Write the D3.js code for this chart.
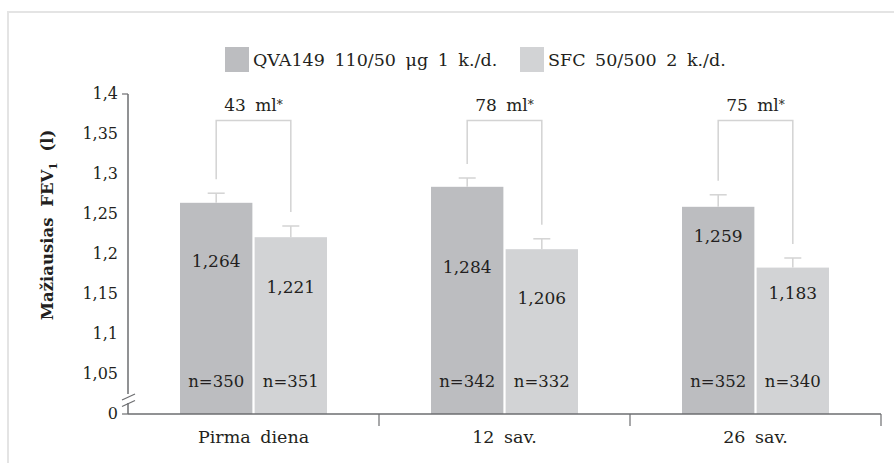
<!DOCTYPE html>
<html>
<head>
<meta charset="utf-8">
<script src="https://cdn.jsdelivr.net/npm/d3@7"></script>
<style>
  html, body { margin: 0; padding: 0; background: #fff; }
  svg { display: block; }
  text { font-family: "DejaVu Serif", "Liberation Serif", serif; fill: #231f20; }
</style>
</head>
<body>
<svg id="chart" width="894" height="463"></svg>
<script>
// ---- data ----
const categories = ["Pirma diena", "12 sav.", "26 sav."];
const seriesNames = ["QVA149 110/50 μg 1 k./d.", "SFC 50/500 2 k./d."];
const qvaValues = [1.264, 1.284, 1.259];
const sfcValues = [1.221, 1.206, 1.183];
const qvaErrors = [0.012, 0.011, 0.015];
const sfcErrors = [0.014, 0.013, 0.012];
const qvaN = [350, 342, 352];
const sfcN = [351, 332, 340];
const differences = ["43 ml", "78 ml", "75 ml"];
const yTicks = [0, 1.05, 1.1, 1.15, 1.2, 1.25, 1.3, 1.35, 1.4];
const yTickLabels = ["0", "1,05", "1,1", "1,15", "1,2", "1,25", "1,3", "1,35", "1,4"];

// annotation placement (value-axis units where the value labels sit, as in the picture)
const qvaLabelAt = [1.191, 1.184, 1.2225];
const sfcLabelAt = [1.159, 1.145, 1.151];

// ---- layout ----
const svg = d3.select("#chart");
const plotLeft = 128, plotRight = 881, baseline = 414, plotTop = 94;
const colors = ["#bcbdc0", "#d2d3d5"];
const lineGray = "#d3d3d3";
const axisGray = "#6d6e71";
const fs = 17, ws = 4;
const fmt = v => d3.format(".3f")(v).replace(".", ",");

// frame
svg.append("path").attr("d", `M8,463 V12 H894`).attr("fill", "none")
  .attr("stroke", "#e4e4e4").attr("stroke-width", 2);

const y = d3.scaleLinear().domain([0, 1.05, 1.4]).range([baseline, 374, plotTop]);
const x0 = d3.scaleBand().domain(categories).range([plotLeft, plotRight]).padding(0);
const x1 = d3.scaleBand().domain(seriesNames).range([52, 199]).paddingInner(0.03);

const rows = categories.map((c, i) => ({
  cat: c,
  bars: [
    { s: seriesNames[0], v: qvaValues[i], e: qvaErrors[i], n: qvaN[i], at: qvaLabelAt[i], color: colors[0] },
    { s: seriesNames[1], v: sfcValues[i], e: sfcErrors[i], n: sfcN[i], at: sfcLabelAt[i], color: colors[1] }
  ],
  diff: differences[i]
}));

const groups = svg.selectAll("g.grp").data(rows).join("g")
  .attr("class", "grp").attr("transform", d => `translate(${x0(d.cat)},0)`);

// bars
groups.selectAll("rect").data(d => d.bars).join("rect")
  .attr("x", b => x1(b.s)).attr("width", x1.bandwidth())
  .attr("y", b => y(b.v)).attr("height", b => baseline - y(b.v))
  .attr("fill", b => b.color);

// error bars
const capW = 17;
groups.selectAll("g.err").data(d => d.bars).join("g").attr("class", "err")
  .each(function(b) {
    const cx = x1(b.s) + x1.bandwidth() / 2;
    const g = d3.select(this);
    g.append("line").attr("x1", cx).attr("x2", cx).attr("y1", y(b.v)).attr("y2", y(b.v + b.e))
      .attr("stroke", lineGray).attr("stroke-width", 1.5);
    g.append("line").attr("x1", cx - capW / 2).attr("x2", cx + capW / 2).attr("y1", y(b.v + b.e)).attr("y2", y(b.v + b.e))
      .attr("stroke", lineGray).attr("stroke-width", 1.5);
  });

// brackets
const bracketTop = 120.5;
groups.each(function(d) {
  const g = d3.select(this);
  const b0 = d.bars[0], b1 = d.bars[1];
  const cxa = x1(b0.s) + x1.bandwidth() / 2;
  const cxb = x1(b1.s) + x1.bandwidth() / 2;
  const ya = y(b0.v + b0.e) - 14;
  const yb = y(b1.v + b1.e) - 14;
  g.append("path").attr("d", `M${cxa},${ya} V${bracketTop} H${cxb} V${yb}`)
    .attr("fill", "none").attr("stroke", lineGray).attr("stroke-width", 1.5);
  const t = g.append("text").attr("x", (cxa + cxb) / 2).attr("y", 111)
    .attr("text-anchor", "middle").attr("font-size", fs).attr("word-spacing", ws);
  t.append("tspan").text(d.diff);
  t.append("tspan").attr("font-size", 12).attr("dy", -2).text("*");
});

// value labels
groups.selectAll("text.val").data(d => d.bars).join("text").attr("class", "val")
  .attr("x", b => x1(b.s) + x1.bandwidth() / 2)
  .attr("y", b => y(b.at)).attr("dy", "0.35em")
  .attr("text-anchor", "middle").attr("font-size", fs)
  .text(b => fmt(b.v));

// n labels
groups.selectAll("text.n").data(d => d.bars).join("text").attr("class", "n")
  .attr("x", b => x1(b.s) + x1.bandwidth() / 2)
  .attr("y", baseline - 33).attr("dy", "0.35em")
  .attr("text-anchor", "middle").attr("font-size", 16.5)
  .text(b => "n=" + b.n);

// y axis
svg.append("line").attr("x1", plotLeft).attr("x2", plotLeft).attr("y1", plotTop).attr("y2", 394)
  .attr("stroke", axisGray).attr("stroke-width", 1.5);
svg.append("line").attr("x1", plotLeft).attr("x2", plotLeft).attr("y1", 403).attr("y2", baseline)
  .attr("stroke", axisGray).attr("stroke-width", 1.5);
svg.append("line").attr("x1", 122).attr("x2", 135).attr("y1", 400).attr("y2", 394)
  .attr("stroke", axisGray).attr("stroke-width", 1.2);
svg.append("line").attr("x1", 122).attr("x2", 135).attr("y1", 406.5).attr("y2", 400.5)
  .attr("stroke", axisGray).attr("stroke-width", 1.2);
[1.4, 0].forEach(v => {
  svg.append("line").attr("x1", plotLeft - 6).attr("x2", plotLeft).attr("y1", y(v)).attr("y2", y(v))
    .attr("stroke", axisGray).attr("stroke-width", 1.2);
});
svg.selectAll("text.yt").data(yTicks).join("text").attr("class", "yt")
  .attr("x", 118).attr("y", v => y(v)).attr("dy", "0.32em")
  .attr("text-anchor", "end").attr("font-size", 16)
  .text((v, i) => yTickLabels[i]);

// y axis title
const yt = svg.append("text").attr("transform", "translate(53,225) rotate(-90)")
  .attr("text-anchor", "middle").attr("font-size", 16.5).attr("font-weight", "bold")
  .attr("word-spacing", 5);
yt.append("tspan").text("Mažiausias FEV");
yt.append("tspan").attr("font-size", 10.5).attr("dy", 4).text("1");
yt.append("tspan").attr("dy", -4).text(" (l)");

// x axis
svg.append("line").attr("x1", plotLeft).attr("x2", plotRight).attr("y1", baseline).attr("y2", baseline)
  .attr("stroke", axisGray).attr("stroke-width", 1.5);
categories.forEach(c => {
  const xe = x0(c) + x0.bandwidth();
  svg.append("line").attr("x1", xe).attr("x2", xe).attr("y1", baseline).attr("y2", baseline + 12)
    .attr("stroke", axisGray).attr("stroke-width", 1.2);
});
svg.selectAll("text.cat").data(categories).join("text").attr("class", "cat")
  .attr("x", c => x0(c) + x0.bandwidth() / 2).attr("y", 437).attr("dy", "0.35em")
  .attr("text-anchor", "middle").attr("font-size", 17.5).attr("word-spacing", ws)
  .text(c => c);

// legend
const legendX = [225, 520];
seriesNames.forEach((s, i) => {
  svg.append("rect").attr("x", legendX[i]).attr("y", 47).attr("width", 24).attr("height", 25)
    .attr("fill", colors[i]);
  svg.append("text").attr("x", legendX[i] + 28).attr("y", 60).attr("dy", "0.35em")
    .attr("font-size", 17.5).attr("word-spacing", ws).text(s);
});
</script>
</body>
</html>
